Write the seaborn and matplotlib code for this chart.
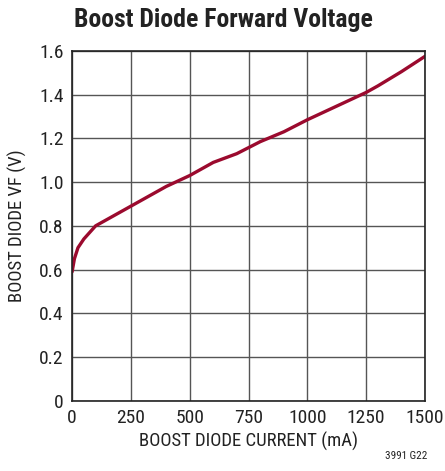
import numpy as np
import pandas as pd
import matplotlib
matplotlib.use("Agg")
import matplotlib.pyplot as plt
import seaborn as sns

# valores
corrente_ma = [0, 10, 25, 50, 100, 200, 250, 300, 400, 500, 600, 700, 800, 900,
               1000, 1100, 1200, 1250, 1300, 1400, 1500]
vf_volts = [0.59, 0.65, 0.70, 0.74, 0.80, 0.86, 0.89, 0.92, 0.98, 1.03, 1.09, 1.13,
            1.185, 1.23, 1.285, 1.335, 1.385, 1.41, 1.44, 1.505, 1.575]
x_ticks = [0, 250, 500, 750, 1000, 1250, 1500]
y_ticks = [0, 0.2, 0.4, 0.6, 0.8, 1.0, 1.2, 1.4, 1.6]

df = pd.DataFrame({'I': corrente_ma, 'VF': vf_volts})

sns.set_style('white')
plt.rcParams['font.family'] = ['Roboto Condensed', 'DejaVu Sans']

fig = plt.figure(figsize=(4.45, 4.71), dpi=100)
ax = fig.add_axes([0.162, 0.149, 0.793, 0.743])

sns.lineplot(data=df, x='I', y='VF', ax=ax, color='#9b0a2e', linewidth=2.4)

ax.set_xlim(0, 1500)
ax.set_ylim(0, 1.6)
ax.set_xticks(x_ticks)
ax.set_yticks(y_ticks)
ax.set_yticklabels([f'{v:.1f}' if v else '0' for v in y_ticks])
ax.grid(True, color='#555555', linewidth=1)
ax.tick_params(axis='both', labelsize=14, length=0, pad=6, colors='#222222')
for s in ax.spines.values():
    s.set_color('#222222')
    s.set_linewidth(1.2)

ax.set_xlabel('BOOST DIODE CURRENT (mA)', fontsize=13.5, color='#222222', labelpad=3)
ax.set_ylabel('BOOST DIODE VF (V)', fontsize=13.5, color='#222222', labelpad=9)
fig.text(0.503, 0.958, 'Boost Diode Forward Voltage', ha='center', va='center',
         fontsize=18.5, fontweight='bold', color='#222222')
fig.text(0.96, 0.022, '3991 G22', ha='right', va='bottom', fontsize=8, color='#222222')

fig.savefig('out.png', dpi=100)
